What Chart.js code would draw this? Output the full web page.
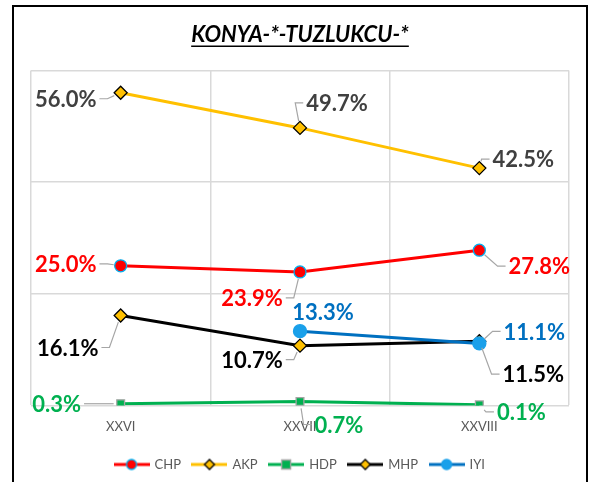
<!DOCTYPE html>
<html>
<head>
<meta charset="utf-8">
<script src="https://cdn.jsdelivr.net/npm/chart.js@4/dist/chart.umd.min.js"></script>
<style>
  html, body { margin: 0; padding: 0; background: #fff; }
  #wrap { position: relative; width: 597px; height: 482px; overflow: hidden; }
  #frame { position: absolute; left: 12px; top: 5px; width: 572px; height: 500px; border: 2px solid #000; pointer-events: none; }
  canvas { position: absolute; left: 0; top: 0; }
</style>
</head>
<body>
<div id="wrap">
  <canvas id="chart" width="597" height="482"></canvas>
  <div id="frame"></div>
</div>
<script>
const categories = ['XXVI', 'XXVII', 'XXVIII'];
const chpValues = [25.0, 23.9, 27.8];
const akpValues = [56.0, 49.7, 42.5];
const hdpValues = [0.3, 0.7, 0.1];
const mhpValues = [16.1, 10.7, 11.5];
const iyiValues = [null, 13.3, 11.1];

// label centre offsets from each point [dx, dy, leader]
const labelOffsets = {
  CHP: [[-55, -2, 1], [-48, 26, 1], [60, 16, 1]],
  AKP: [[-55, 6, 1], [37, -25, 1], [44, -9, 1]],
  HDP: [[-64, 0, 1], [39, 23, 1], [42, 7, 1]],
  MHP: [[-53, 32, 1], [-48, 14, 1], [54, 33, 1]],
  IYI: [null, [23, -19, 0], [55, -12, 1]]
};
const labelColors = { CHP: '#ff0000', AKP: '#404040', HDP: '#00b050', MHP: '#000000', IYI: '#0070c0' };

const FONT = 'Lato, "Open Sans", sans-serif';

const makeIcon = (line, style, fill, border) => {
  const c = document.createElement('canvas');
  c.width = 36; c.height = 14;
  const g = c.getContext('2d');
  g.strokeStyle = line; g.lineWidth = 3;
  g.beginPath(); g.moveTo(0, 7); g.lineTo(36, 7); g.stroke();
  g.fillStyle = fill; g.strokeStyle = border; g.lineWidth = 1.3;
  g.beginPath();
  if (style === 'circle') g.arc(18, 7, 5, 0, Math.PI * 2);
  if (style === 'rect') g.rect(13.5, 2.5, 9, 9);
  if (style === 'rectRot') { g.moveTo(18, 2); g.lineTo(23, 7); g.lineTo(18, 12); g.lineTo(13, 7); g.closePath(); }
  g.fill(); g.stroke();
  return c;
};

const series = [
  { label: 'CHP', data: chpValues, line: '#ff0000', style: 'circle', fill: '#ff0000', border: '#00b0f0', r: 6, order: 5 },
  { label: 'AKP', data: akpValues, line: '#ffc000', style: 'rectRot', fill: '#ffc000', border: '#000000', r: 6.5, order: 4 },
  { label: 'HDP', data: hdpValues, line: '#00b050', style: 'rect', fill: '#00b050', border: '#a5a5a5', r: 5.5, order: 3 },
  { label: 'MHP', data: mhpValues, line: '#000000', style: 'rectRot', fill: '#ffc000', border: '#000000', r: 6.5, order: 2 },
  { label: 'IYI', data: iyiValues, line: '#0070c0', style: 'circle', fill: '#1aa0ea', border: '#1aa0ea', r: 6.5, order: 1 }
];

const icons = {};
series.forEach(s => { icons[s.label] = makeIcon(s.line, s.style, s.fill, s.border); });

const pointLabels = {
  id: 'pointLabels',
  afterDatasetsDraw(chart) {
    const ctx = chart.ctx;
    ctx.save();
    ctx.font = 'bold 22px ' + FONT;
    ctx.textAlign = 'center';
    ctx.textBaseline = 'middle';
    chart.data.datasets.forEach((ds, di) => {
      const meta = chart.getDatasetMeta(di);
      ds.data.forEach((v, i) => {
        if (v == null) return;
        const p = meta.data[i];
        const [dx, dy, lead] = labelOffsets[ds.label][i];
        const text = v.toFixed(1) + '%';
        const lx = p.x + dx, ly = p.y + dy;
        const w = ctx.measureText(text).width;
        if (lead) {
          const left = dx < 0;
          const ax = left ? lx + w / 2 + 3 : lx - w / 2 - 3;
          const bx = left ? ax + 8 : ax - 8;
          const ang = Math.atan2(ly - p.y, bx - p.x);
          ctx.beginPath();
          ctx.moveTo(p.x + Math.cos(ang) * 7, p.y + Math.sin(ang) * 7);
          ctx.lineTo(bx, ly);
          ctx.lineTo(ax, ly);
          ctx.strokeStyle = '#a6a6a6';
          ctx.lineWidth = 1.2;
          ctx.stroke();
        }
        ctx.fillStyle = labelColors[ds.label];
        ctx.fillText(text, lx, ly + 1);
      });
    });
    ctx.restore();
  }
};

const titleUnderline = {
  id: 'titleUnderline',
  afterDraw(chart) {
    const tb = chart.titleBlock;
    const o = chart.options.plugins.title;
    const ctx = chart.ctx;
    ctx.save();
    ctx.font = 'italic bold ' + o.font.size + 'px ' + FONT;
    const w = ctx.measureText(o.text).width;
    const cx = (tb.left + tb.right) / 2;
    const y = tb.top + o.padding.top + o.font.size * 1.2 / 2 + o.font.size * 0.5;
    ctx.strokeStyle = '#000';
    ctx.lineWidth = 1.5;
    ctx.beginPath();
    ctx.moveTo(cx - w / 2, y);
    ctx.lineTo(cx + w / 2, y);
    ctx.stroke();
    ctx.restore();
  }
};

new Chart(document.getElementById('chart'), {
  type: 'line',
  data: {
    labels: categories,
    datasets: series.map(s => ({
      label: s.label,
      data: s.data,
      borderColor: s.line,
      backgroundColor: s.fill,
      borderWidth: 3,
      pointStyle: s.style,
      pointRadius: s.r,
      pointBackgroundColor: s.fill,
      pointBorderColor: s.border,
      pointBorderWidth: 1.3,
      order: s.order,
      tension: 0
    }))
  },
  options: {
    responsive: false,
    animation: false,
    devicePixelRatio: 1,
    layout: { padding: { left: 31, right: 28, top: 9, bottom: 1 } },
    scales: {
      x: {
        offset: true,
        grid: { offset: true, color: '#d9d9d9', lineWidth: 1.5, drawTicks: false },
        border: { display: false },
        ticks: { color: '#595959', font: { family: FONT, size: 13 }, padding: 14 },
        afterFit: s => { s.height -= 3; }
      },
      y: {
        min: 0,
        max: 60,
        ticks: { display: false, stepSize: 20 },
        grid: { color: '#d9d9d9', lineWidth: 1.5, drawTicks: false },
        border: { display: false }
      }
    },
    plugins: {
      title: {
        display: true,
        text: 'KONYA-*-TUZLUKCU-*',
        color: '#000',
        font: { family: FONT, size: 22, weight: 'bold', style: 'italic' },
        padding: { top: 13, bottom: 22 }
      },
      legend: {
        position: 'bottom',
        labels: {
          usePointStyle: true,
          pointStyleWidth: 33,
          padding: 12,
          color: '#595959',
          font: { family: FONT, size: 13 },
          sort: (a, b) => a.datasetIndex - b.datasetIndex,
          generateLabels: chart => Chart.defaults.plugins.legend.labels.generateLabels(chart)
            .map(item => Object.assign(item, { pointStyle: icons[item.text] }))
        }
      },
      tooltip: { enabled: false }
    }
  },
  plugins: [pointLabels, titleUnderline]
});
</script>
</body>
</html>
